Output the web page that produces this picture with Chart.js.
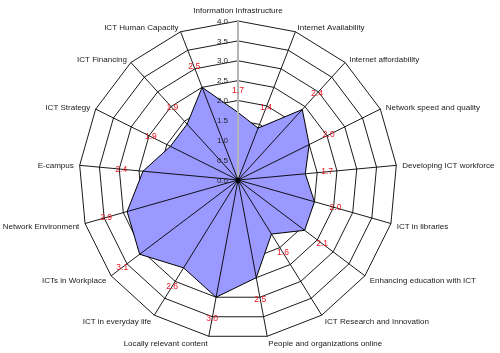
<!DOCTYPE html>
<html>
<head>
<meta charset="utf-8">
<script src="https://cdn.jsdelivr.net/npm/chart.js@4"></script>
<style>
  html, body { margin: 0; padding: 0; background: #fff; }
  #wrap { width: 500px; height: 353px; position: relative; }
</style>
</head>
<body>
<div id="wrap"><canvas id="radar"></canvas></div>
<script>
const categories = [
  "Information Infrastructure", "Internet Availability", "Internet affordability",
  "Network speed and quality", "Developing ICT workforce", "ICT in libraries",
  "Enhancing education with ICT", "ICT Research and Innovation",
  "People and organizations online", "Locally relevant content",
  "ICT in everyday life", "ICTs in Workplace", "Network Environment",
  "E-campus", "ICT Strategy", "ICT Financing", "ICT Human Capacity"
];
const scores = [1.7, 1.4, 2.4, 2.0, 1.7, 2.0, 2.1, 1.6, 2.5, 3.0, 2.6, 3.1, 2.9, 2.4, 1.9, 1.9, 2.5];
const tickValues = [0, 0.5, 1, 1.5, 2, 2.5, 3, 3.5, 4];

const font = "Liberation Sans, Arial, sans-serif";

// spokes, tick labels, category names and value labels go on top of the filled polygon
const overlay = {
  id: "overlay",
  afterDatasetsDraw(chart) {
    const r = chart.scales.r;
    const ctx = chart.ctx;
    ctx.save();
    categories.forEach((c, i) => {
      const p = r.getPointPosition(i, r.drawingArea);
      ctx.beginPath();
      ctx.moveTo(r.xCenter, r.yCenter);
      ctx.lineTo(p.x, p.y);
      ctx.strokeStyle = i === 0 ? "#b4b4b4" : "#000";
      ctx.lineWidth = i === 0 ? 2 : 0.9;
      ctx.stroke();
    });
    ctx.beginPath();
    ctx.arc(r.xCenter, r.yCenter, 2.5, 0, Math.PI * 2);
    ctx.fillStyle = "#000";
    ctx.fill();

    ctx.font = "8px " + font;
    ctx.fillStyle = "#222";
    ctx.textAlign = "right";
    ctx.textBaseline = "middle";
    tickValues.forEach((v) => {
      const d = r.getDistanceFromCenterForValue(v);
      ctx.fillText(v.toFixed(1), r.xCenter - 10, r.yCenter - d + 0.5);
    });

    // category names just outside the outer ring
    ctx.fillStyle = "#1a1a1a";
    categories.forEach((c, i) => {
      const p = r.getPointPosition(i, r.drawingArea + 6);
      if (i === 0) {
        ctx.textAlign = "center";
        ctx.textBaseline = "bottom";
        ctx.fillText(c, p.x, p.y);
        return;
      }
      ctx.textAlign = p.x > r.xCenter ? "left" : "right";
      ctx.textBaseline = "middle";
      ctx.fillText(c, p.x, p.y + 1.5);
    });

    ctx.font = "8.5px " + font;
    ctx.fillStyle = "#e8141e";
    ctx.textAlign = "center";
    ctx.textBaseline = "middle";
    scores.forEach((v, i) => {
      const p = r.getPointPosition(i, r.getDistanceFromCenterForValue(v + 0.55));
      ctx.fillText(v.toFixed(1), p.x, p.y);
    });
    ctx.restore();
  }
};

new Chart(document.getElementById("radar"), {
  type: "radar",
  data: {
    labels: categories,
    datasets: [{
      data: scores,
      backgroundColor: "#9999ff",
      borderColor: "#000",
      borderWidth: 1,
      pointRadius: 0,
      fill: true
    }]
  },
  options: {
    responsive: true,
    maintainAspectRatio: false,
    animation: false,
    layout: { padding: { top: 21, bottom: 14, left: 79, right: 103 } },
    plugins: { legend: { display: false }, tooltip: { enabled: false } },
    scales: {
      r: {
        min: 0,
        max: 4,
        ticks: { stepSize: 0.5, display: false },
        grid: { color: "#000", lineWidth: 0.9 },
        angleLines: { display: false },
        pointLabels: { display: false }
      }
    }
  },
  plugins: [overlay]
});
</script>
</body>
</html>
